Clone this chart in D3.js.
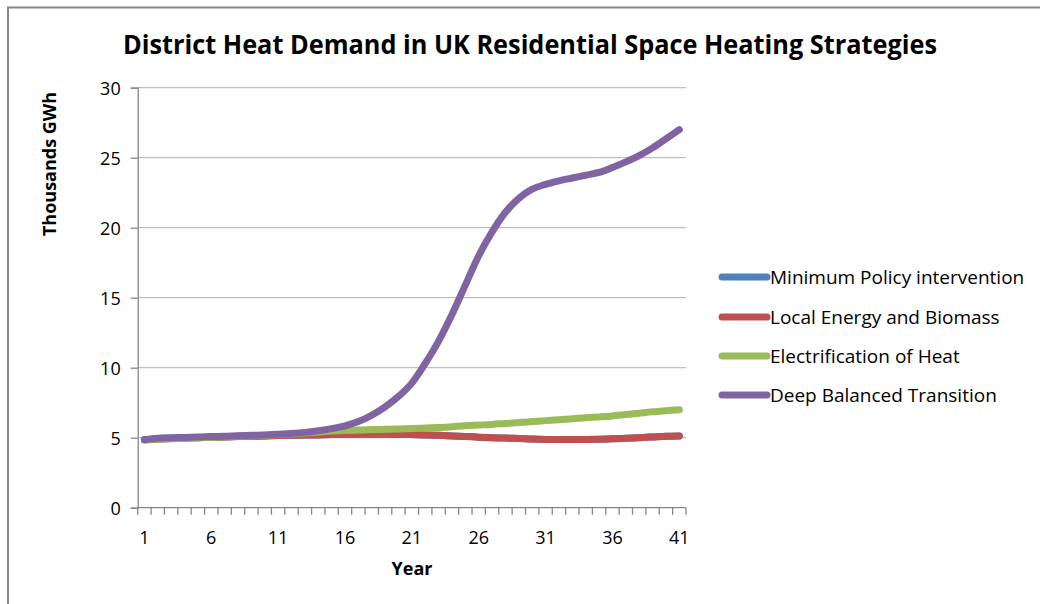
<!DOCTYPE html>
<html>
<head>
<meta charset="utf-8">
<script src="https://cdn.jsdelivr.net/npm/d3@7"></script>
<style>
  body { margin: 0; background: #fff; }
  svg { display: block; }
  .tick text { font-family: "Open Sans", sans-serif; font-size: 18px; fill: #000; }
</style>
</head>
<body>
<svg id="chart" width="1040" height="604"></svg>
<script>
// data
var years = d3.range(1, 42); // 1..41
var seriesNames = ["Minimum Policy intervention", "Local Energy and Biomass",
                   "Electrification of Heat", "Deep Balanced Transition"];
var colors = ["#4F81BD", "#C0504D", "#9BBB59", "#8064A2"];

var minPolicy = [4.85, 4.9, 4.95, 4.98, 5.0, 5.03, 5.05, 5.08, 5.1, 5.12,
                 5.15, 5.17, 5.19, 5.2, 5.22, 5.23, 5.24, 5.24, 5.24, 5.23,
                 5.22, 5.2, 5.17, 5.13, 5.09, 5.04, 5.0, 4.97, 4.94, 4.9,
                 4.88, 4.88, 4.88, 4.88, 4.89, 4.92, 4.96, 5.0, 5.05, 5.1, 5.13];
var localEnergy = [4.85, 4.9, 4.95, 4.98, 5.0, 5.03, 5.05, 5.08, 5.1, 5.12,
                   5.15, 5.17, 5.19, 5.2, 5.22, 5.23, 5.24, 5.24, 5.24, 5.23,
                   5.22, 5.2, 5.17, 5.13, 5.09, 5.04, 5.0, 4.97, 4.94, 4.9,
                   4.88, 4.88, 4.88, 4.88, 4.89, 4.92, 4.96, 5.0, 5.05, 5.1, 5.13];
var electrification = [4.85, 4.9, 4.93, 4.96, 5.0, 5.03, 5.06, 5.1, 5.13, 5.17,
                       5.22, 5.27, 5.33, 5.4, 5.47, 5.52, 5.55, 5.58, 5.6, 5.62,
                       5.65, 5.7, 5.72, 5.78, 5.85, 5.9, 5.95, 6.02, 6.08, 6.15,
                       6.22, 6.28, 6.35, 6.42, 6.48, 6.55, 6.65, 6.75, 6.85, 6.93, 7.0];
var deepBalanced = [4.85, 4.97, 5.0, 5.02, 5.05, 5.08, 5.1, 5.14, 5.17, 5.2,
                    5.24, 5.3, 5.38, 5.5, 5.65, 5.85, 6.15, 6.6, 7.2, 7.95,
                    8.9, 10.3, 11.9, 13.8, 15.9, 18.0, 19.7, 21.1, 22.1, 22.75,
                    23.1, 23.35, 23.55, 23.75, 23.95, 24.3, 24.7, 25.15, 25.7, 26.35, 27.0];
var yTicks = [0, 5, 10, 15, 20, 25, 30];
var xLabels = [1, 6, 11, 16, 21, 26, 31, 36, 41];

var allSeries = [minPolicy, localEnergy, electrification, deepBalanced];

var svg = d3.select("#chart");

// outer frame (only top and left edges visible)
svg.append("path")
  .attr("d", "M8,604 L8,7.5 L1040,7.5")
  .attr("fill", "none")
  .attr("stroke", "#868686")
  .attr("stroke-width", 2);

var plot = {left: 137.7, right: 686, top: 87.7, bottom: 507.7};

var x = d3.scaleBand().domain(years).range([plot.left, plot.right]).paddingInner(0).paddingOuter(0);
var y = d3.scaleLinear().domain([0, 30]).range([plot.bottom, plot.top]);

// gridlines
svg.append("g")
  .selectAll("line")
  .data(yTicks.filter(function (d) { return d > 0; }))
  .enter().append("line")
  .attr("x1", plot.left).attr("x2", plot.right)
  .attr("y1", function (d) { return y(d); })
  .attr("y2", function (d) { return y(d); })
  .attr("stroke", "#BEBEBE")
  .attr("stroke-width", 1.3);

// y axis
var yAxis = d3.axisLeft(y).tickValues(yTicks).tickSize(7).tickPadding(10);
var gy = svg.append("g")
  .attr("transform", "translate(" + plot.left + ",0)")
  .call(yAxis);
gy.select(".domain").attr("stroke", "#868686").attr("stroke-width", 1.3);
gy.selectAll(".tick line").attr("stroke", "#868686").attr("stroke-width", 1.3);
gy.selectAll(".tick text").attr("dy", "0.36em");

// x axis: boundary ticks between categories, labels every 5th
var gx = svg.append("g").attr("transform", "translate(0," + plot.bottom + ")");
gx.append("line")
  .attr("x1", plot.left).attr("x2", plot.right)
  .attr("stroke", "#868686").attr("stroke-width", 1.3);
gx.selectAll(".bt")
  .data(years.concat([null]))
  .enter().append("line")
  .attr("class", "bt")
  .attr("x1", function (d) { return d === null ? plot.right : x(d); })
  .attr("x2", function (d) { return d === null ? plot.right : x(d); })
  .attr("y1", 0).attr("y2", 7)
  .attr("stroke", "#868686").attr("stroke-width", 1.3);

var xAxis = d3.axisBottom(x).tickValues(xLabels).tickSize(0).tickPadding(24);
var gxl = svg.append("g")
  .attr("transform", "translate(0," + plot.bottom + ")")
  .call(xAxis);
gxl.select(".domain").remove();

// lines
var line = d3.line()
  .x(function (d, i) { return x(years[i]) + x.bandwidth() / 2; })
  .y(function (d) { return y(d); })
  .curve(d3.curveCatmullRom.alpha(0));

svg.append("g")
  .selectAll("path")
  .data(allSeries)
  .enter().append("path")
  .attr("d", line)
  .attr("fill", "none")
  .attr("stroke", function (d, i) { return colors[i]; })
  .attr("stroke-width", 7)
  .attr("stroke-linecap", "round")
  .attr("stroke-linejoin", "round");

// title
svg.append("text")
  .attr("x", 530).attr("y", 54)
  .attr("text-anchor", "middle")
  .attr("textLength", 814)
  .attr("lengthAdjust", "spacingAndGlyphs")
  .style("font-family", "'Open Sans', sans-serif")
  .style("font-weight", "bold")
  .style("font-size", "27px")
  .text("District Heat Demand in UK Residential Space Heating Strategies");

// axis titles
svg.append("text")
  .attr("transform", "translate(56,164) rotate(-90)")
  .attr("text-anchor", "middle")
  .style("font-family", "'Open Sans', sans-serif")
  .style("font-weight", "bold")
  .style("font-size", "18px")
  .text("Thousands GWh");

svg.append("text")
  .attr("x", 412).attr("y", 575)
  .attr("text-anchor", "middle")
  .style("font-family", "'Open Sans', sans-serif")
  .style("font-weight", "bold")
  .style("font-size", "18px")
  .text("Year");

// legend
var legend = svg.append("g")
  .selectAll("g")
  .data(seriesNames)
  .enter().append("g")
  .attr("transform", function (d, i) { return "translate(722," + [277, 317, 356, 395][i] + ")"; });

legend.append("line")
  .attr("x1", 0).attr("x2", 45)
  .attr("stroke", function (d, i) { return colors[i]; })
  .attr("stroke-width", 7)
  .attr("stroke-linecap", "round");

legend.append("text")
  .attr("x", 48).attr("y", 0).attr("dy", "0.35em")
  .style("font-family", "'Open Sans', sans-serif")
  .style("font-size", "19px")
  .text(function (d) { return d; });
</script>
</body>
</html>
